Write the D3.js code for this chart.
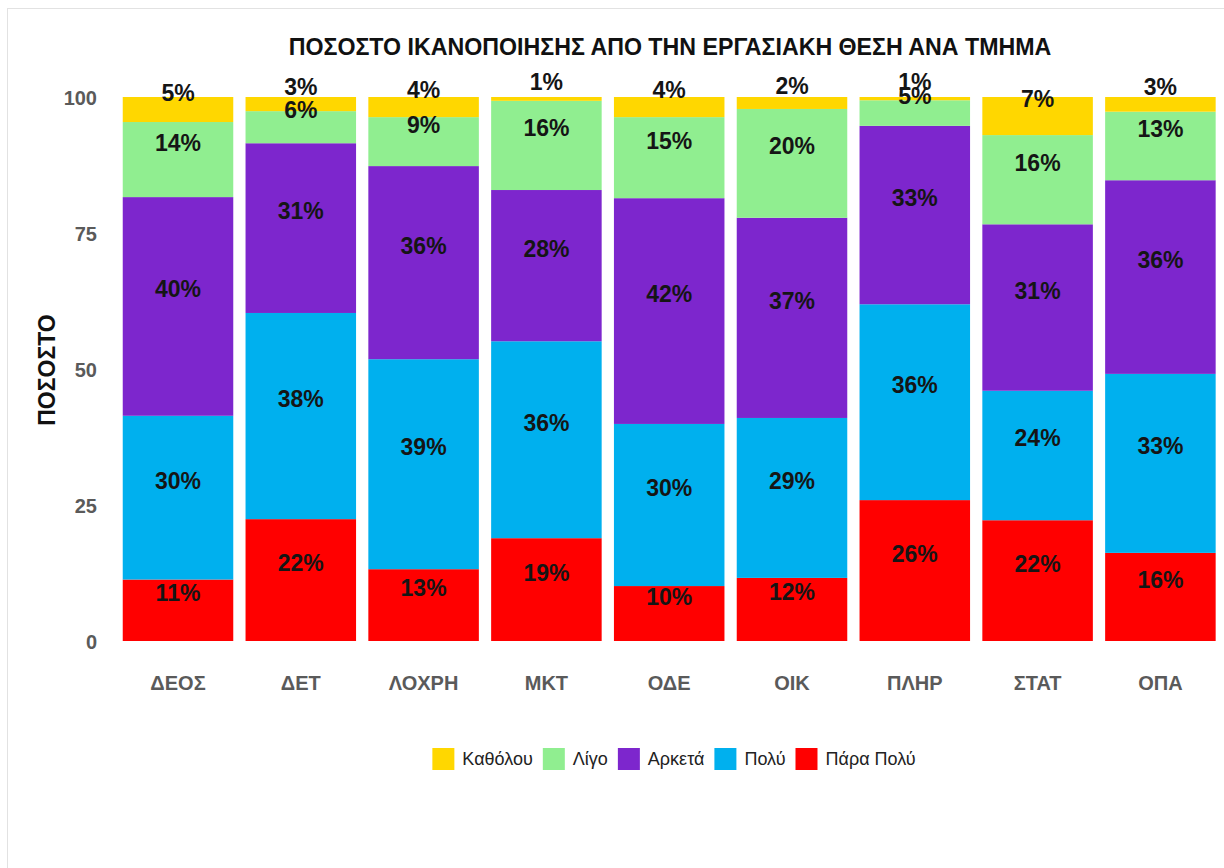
<!DOCTYPE html>
<html>
<head>
<meta charset="utf-8">
<script src="https://cdn.jsdelivr.net/npm/d3@7"></script>
<style>
  html, body { margin: 0; padding: 0; background: #fff; }
  svg { display: block; }
</style>
</head>
<body>
<svg id="chart" width="1224" height="868"></svg>
<script>
const categories = ["ΔΕΟΣ", "ΔΕΤ", "ΛΟΧΡΗ", "ΜΚΤ", "ΟΔΕ", "ΟΙΚ", "ΠΛΗΡ", "ΣΤΑΤ", "ΟΠΑ"];
const paraPoly = [11.3, 22.4, 13.2, 18.9, 10.1, 11.6, 25.9, 22.2, 16.2];
const poly     = [30.1, 37.9, 38.6, 36.2, 29.8, 29.4, 36.0, 23.8, 32.9];
const arketa   = [40.2, 31.2, 35.5, 27.8, 41.5, 36.8, 32.8, 30.6, 35.6];
const ligo     = [13.8, 5.9, 9.0, 16.4, 14.9, 20.0, 4.7, 16.4, 12.6];
const katholou = [4.6, 2.6, 3.7, 0.7, 3.7, 2.2, 0.6, 7.0, 2.7];
const seriesNames = ["Πάρα Πολύ", "Πολύ", "Αρκετά", "Λίγο", "Καθόλου"];
const legendOrder = ["Καθόλου", "Λίγο", "Αρκετά", "Πολύ", "Πάρα Πολύ"];
const yTicks = [0, 25, 50, 75, 100];
const colors = {"Καθόλου": "#FFD700", "Λίγο": "#90EE90", "Αρκετά": "#7D26CD", "Πολύ": "#00B0EE", "Πάρα Πολύ": "#FF0000"};
const titleText = "ΠΟΣΟΣΤΟ ΙΚΑΝΟΠΟΙΗΣΗΣ ΑΠΟ ΤΗΝ ΕΡΓΑΣΙΑΚΗ ΘΕΣΗ ΑΝΑ ΤΜΗΜΑ";
const yTitle = "ΠΟΣΟΣΤΟ";

const seriesValues = [paraPoly, poly, arketa, ligo, katholou];
const table = categories.map((c, i) => {
  const row = {cat: c};
  seriesNames.forEach((s, j) => row[s] = seriesValues[j][i]);
  return row;
});

const svg = d3.select("#chart");
const font = "'Liberation Sans', Arial, sans-serif";

// faint frame
svg.append("rect").attr("x", 7.5).attr("y", 8.5).attr("width", 1300).attr("height", 900)
  .attr("fill", "none").attr("stroke", "#e2e2e2").attr("stroke-width", 1);

const x = d3.scaleBand().domain(categories).range([116.6, 1221.8]).paddingInner(0.1).paddingOuter(0.05);
const y = d3.scaleLinear().domain([0, 100]).range([641, 97]);

const stack = d3.stack().keys(seriesNames);
const stacked = stack(table);

const g = svg.append("g");
stacked.forEach(layer => {
  g.selectAll(null).data(layer).enter().append("rect")
    .attr("x", d => x(d.data.cat))
    .attr("width", x.bandwidth())
    .attr("y", d => y(d[1]))
    .attr("height", d => y(d[0]) - y(d[1]))
    .attr("fill", colors[layer.key]);
});

stacked.forEach(layer => {
  g.selectAll(null).data(layer).enter().append("text")
    .attr("x", d => x(d.data.cat) + x.bandwidth() / 2)
    .attr("y", d => (y(d[0]) + y(d[1])) / 2 - 17)
    .attr("text-anchor", "middle")
    .attr("dominant-baseline", "central")
    .attr("font-family", font)
    .attr("font-weight", "bold")
    .attr("font-size", 23)
    .attr("fill", "#151515")
    .text(d => Math.round(d.data[layer.key]) + "%");
});

// y axis
const yAxis = d3.axisLeft(y).tickValues(yTicks).tickSize(0).tickPadding(0);
const ya = svg.append("g").attr("transform", "translate(97,0)").call(yAxis);
ya.select(".domain").remove();
ya.selectAll("text").attr("font-family", font).attr("font-size", 20).attr("font-weight", "bold")
  .attr("fill", "#5a5a5a").attr("dy", "0.35em");

// x axis
const xAxis = d3.axisBottom(x).tickSize(0).tickPadding(0);
const xa = svg.append("g").attr("transform", "translate(0,676)").call(xAxis);
xa.select(".domain").remove();
xa.selectAll("text").attr("font-family", font).attr("font-size", 20).attr("font-weight", "bold")
  .attr("fill", "#5a5a5a").attr("dy", "0.71em");

// title
svg.append("text").attr("x", 670).attr("y", 47)
  .attr("text-anchor", "middle").attr("dominant-baseline", "central")
  .attr("font-family", font).attr("font-weight", "bold").attr("font-size", 23.2)
  .attr("fill", "#111").text(titleText);

// y title
svg.append("text").attr("transform", "translate(47,370) rotate(-90)")
  .attr("text-anchor", "middle").attr("dominant-baseline", "central")
  .attr("font-family", font).attr("font-weight", "bold").attr("font-size", 23)
  .attr("fill", "#111").text(yTitle);

// legend
const lg = svg.append("g");
const sq = 22, gapText = 8, gapItem = 10;
let cx = 0;
legendOrder.forEach(name => {
  const item = lg.append("g").attr("transform", `translate(${cx},0)`);
  item.append("rect").attr("x", 0).attr("y", -sq / 2).attr("width", sq).attr("height", sq).attr("fill", colors[name]);
  const t = item.append("text").attr("x", sq + gapText).attr("y", 0).attr("dominant-baseline", "central")
    .attr("font-family", font).attr("font-size", 18).attr("fill", "#222").text(name);
  const w = t.node().getComputedTextLength();
  cx += sq + gapText + w + gapItem;
});
const totalW = cx - gapItem;
lg.attr("transform", `translate(${674 - totalW / 2},759)`);
</script>
</body>
</html>
